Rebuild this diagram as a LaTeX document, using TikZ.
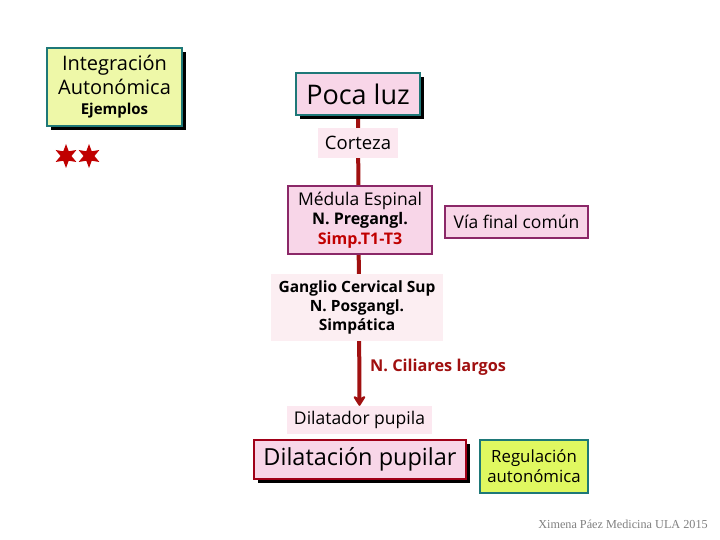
\documentclass[tikz,border=0pt]{standalone}
\usepackage{fontspec}
\setmainfont{Open Sans}
\newfontfamily\footfont{Liberation Serif}
\usetikzlibrary{shadows,shapes.geometric,arrows.meta,backgrounds}
\definecolor{teal1}{HTML}{1E7878}
\definecolor{ygreen}{HTML}{EEF8A8}
\definecolor{lime1}{HTML}{E0F860}
\definecolor{pink1}{HTML}{F8D6E8}
\definecolor{pink2}{HTML}{FCE8F0}
\definecolor{pink3}{HTML}{FCEEF2}
\definecolor{purp}{HTML}{8B2868}
\definecolor{dred}{HTML}{A00018}
\definecolor{lred}{HTML}{A01010}
\definecolor{sred}{HTML}{C00000}
\newcommand{\fs}[2]{\fontsize{#1}{#2}\selectfont}
\tikzset{
  box/.style={inner sep=0pt, align=center, line width=2.2pt},
  shad/.style={drop shadow={shadow xshift=4pt, shadow yshift=-4pt, fill=black, opacity=1}},
  plain/.style={inner sep=0pt, align=center},
  starnode/.style={star, star points=6, star point ratio=2.2, fill=sred, minimum size=24, inner sep=0pt},
}
\begin{document}
\begin{tikzpicture}[x=1pt,y=-1pt]
\useasboundingbox (0,0) rectangle (720,540);
\node[box, shad, draw=teal1, fill=ygreen, minimum width=135, minimum height=78, font=\fs{20}{23.5}] (integ) at (114.5,87)
  {Integración\\Autonómica\\[-3pt]\fs{15}{16}\bfseries Ejemplos};
\node[starnode] (s1) at (66,156) {};
\node[starnode] (s2) at (89,156) {};
\node[box, shad, draw=teal1, fill=pink1, minimum width=124, minimum height=42, font=\fs{27}{30}] (poca) at (358,94)
  {Poca luz};
\node[plain, fill=pink2, minimum width=80, minimum height=30, font=\fs{18.5}{20}] (corteza) at (358,143)
  {Corteza};
\node[box, draw=purp, fill=pink1, minimum width=144, minimum height=68, font=\fs{17.5}{20}] (medula) at (360,220)
  {Médula Espinal\\[-1pt]\fs{16}{20}\bfseries N. Pregangl.\\\fs{16}{19}\bfseries\color{sred}Simp.T1-T3};
\node[box, draw=purp, fill=pink1, minimum width=143, minimum height=32, font=\fs{17.5}{19}] (via) at (516.5,222)
  {Vía final común};
\node[plain, fill=pink3, minimum width=172, minimum height=67, font=\fs{15.5}{19}\bfseries] (ganglio) at (357,307.5)
  {\raisebox{-3pt}{\parbox{170pt}{\centering Ganglio Cervical Sup\\N. Posgangl.\\Simpática}}};
\node[plain, fill=pink2, minimum width=145, minimum height=28, font=\fs{17.5}{19}] (dilatador) at (359.5,420)
  {Dilatador pupila};
\node[box, shad, draw=dred, fill=pink1, minimum width=212, minimum height=39, font=\fs{23.5}{26}] (dilatacion) at (360,459.5)
  {Dilatación pupilar};
\node[box, draw=teal1, fill=lime1, minimum width=108, minimum height=53, font=\fs{16.8}{20}] (regul) at (534,466.5)
  {Regulación\\\fs{16.8}{20}autonómica};
\node[plain, anchor=west, text=lred, font=\fs{16.3}{18}\bfseries] (cil) at (370,367)
  {N. Ciliares largos};
\node[plain, text=gray, font=\footfont\fs{12.2}{14}] (foot) at (623,524) {Ximena Páez Medicina ULA 2015};
\begin{scope}[on background layer]
\fill[white] (0,0) rectangle (720,540);
\draw[line width=4pt, lred, -{Stealth[length=12pt,width=15pt,round]}] (poca.south) -- (dilatador.north);
\end{scope}
\end{tikzpicture}
\end{document}
